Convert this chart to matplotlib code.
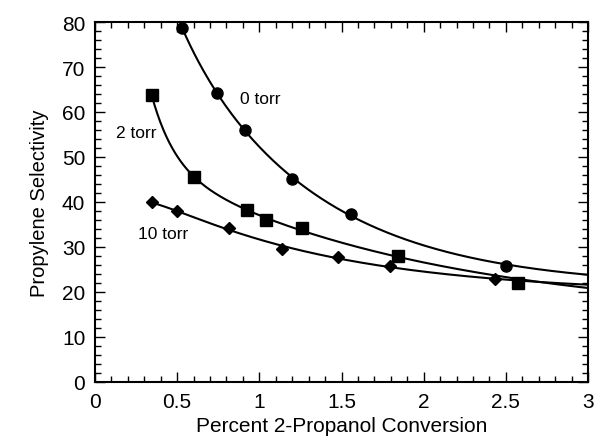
import numpy as np
import matplotlib
matplotlib.use('Agg')
import matplotlib.pyplot as plt
from matplotlib.ticker import MultipleLocator

plt.rcParams['font.family'] = ['Liberation Sans', 'DejaVu Sans']

# data
x_0torr = [0.53, 0.74, 0.91, 1.20, 1.56, 2.50]
y_0torr = [78.7, 64.3, 56.1, 45.1, 37.3, 25.8]

x_2torr = [0.345, 0.604, 0.923, 1.04, 1.26, 1.846, 2.573]
y_2torr = [63.7, 45.6, 38.2, 36.1, 34.2, 27.9, 21.9]

x_10torr = [0.345, 0.497, 0.818, 1.136, 1.479, 1.795, 2.437]
y_10torr = [39.9, 37.9, 34.2, 29.6, 27.7, 25.8, 22.8]

# where each fitted line meets the right axis (x = 3)
fit_end_y = [24.0, 21.6, 21.6]

labels = ['0 torr', '2 torr', '10 torr']


def fit_curve(x, y):
    # y = a + b*exp(-k1 x) + c*exp(-k2 x), k1/k2 by grid search
    x = np.asarray(x); y = np.asarray(y)
    best = None
    ks = np.linspace(0.2, 8, 79)
    for i, k1 in enumerate(ks):
        for k2 in ks[i+1:]:
            A = np.column_stack([np.ones_like(x), np.exp(-k1*x), np.exp(-k2*x)])
            coef = np.linalg.lstsq(A, y, rcond=None)[0]
            err = np.sum((A @ coef - y)**2)
            if best is None or err < best[0]:
                best = (err, k1, k2, coef)
    _, k1, k2, (a, b, c) = best
    return lambda t: a + b*np.exp(-k1*t) + c*np.exp(-k2*t)


fig = plt.figure(figsize=(5.96, 4.39), dpi=100)
ax = fig.add_axes([0.1594, 0.1276, 0.8272, 0.82])

series = [(x_0torr, y_0torr, 'o', 8), (x_2torr, y_2torr, 's', 8), (x_10torr, y_10torr, 'D', 6)]
for (xs, ys, m, ms), yend in zip(series, fit_end_y):
    f = fit_curve(xs + [3.0], ys + [yend])
    t = np.linspace(xs[0], 3, 300)
    ax.plot(t, f(t), color='black', lw=1.5)
    ax.plot(xs, ys, m, color='black', ms=ms, clip_on=False)

ax.text(0.88, 63, labels[0], fontsize=12.5, va='center')
ax.text(0.13, 55.5, labels[1], fontsize=12.5, va='center')
ax.text(0.26, 32.9, labels[2], fontsize=12.5, va='center')

ax.set_xlim(0, 3)
ax.set_ylim(0, 80)
ax.xaxis.set_major_locator(MultipleLocator(0.5))
ax.xaxis.set_minor_locator(MultipleLocator(0.1))
ax.yaxis.set_major_locator(MultipleLocator(10))
ax.yaxis.set_minor_locator(MultipleLocator(2))
ax.set_xticks([0, 0.5, 1, 1.5, 2, 2.5, 3])
ax.set_xticklabels(['0', '0.5', '1', '1.5', '2', '2.5', '3'])
ax.tick_params(which='both', direction='in', top=True, right=True, width=1)
ax.tick_params(which='major', length=7, labelsize=15, pad=7)
ax.tick_params(which='minor', length=4)
for s in ax.spines.values():
    s.set_linewidth(1.5)

ax.set_xlabel('Percent 2-Propanol Conversion', fontsize=15, labelpad=4)
ax.set_ylabel('Propylene Selectivity', fontsize=14.5, labelpad=9)

fig.savefig('out.png', dpi=100)
